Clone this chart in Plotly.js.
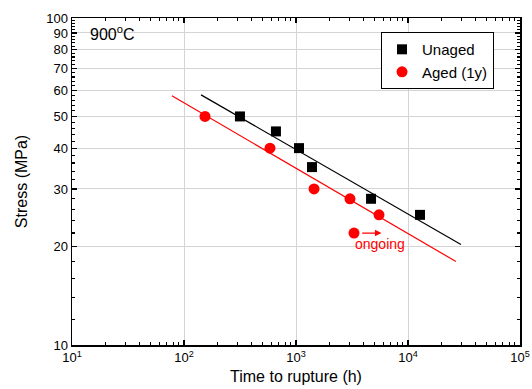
<!DOCTYPE html>
<html>
<head>
<meta charset="utf-8">
<script src="https://cdn.plot.ly/plotly-3.0.1.min.js"></script>
<style>html,body{margin:0;padding:0;background:#fff;}#chart{width:532px;height:389px;}</style>
</head>
<body>
<div id="chart"></div>
<script>
// Data
const unagedTime = [316, 662, 1064, 1389, 4677, 12800];
const unagedStress = [50, 45, 40, 35, 28, 25];
const agedTime = [154, 586, 1449, 3034, 5509];
const agedStress = [50, 40, 30, 28, 25];
const ongoingTime = [3296];
const ongoingStress = [22];
const unagedFitTime = [142, 29700];
const unagedFitStress = [58.2, 20.3];
const agedFitTime = [78, 26800];
const agedFitStress = [57.8, 18.0];
const xTickVals = [10, 100, 1000, 10000, 100000];
const xTickText = ['10<sup>1</sup>', '10<sup>2</sup>', '10<sup>3</sup>', '10<sup>4</sup>', '10<sup>5</sup>'];
const yTickVals = [10, 20, 30, 40, 50, 60, 70, 80, 90, 100];
const yTickText = ['10', '20', '30', '40', '50', '60', '70', '80', '90', '100'];

const xMinor = [];
for (let d = 10; d < 100000; d *= 10) for (let m = 2; m <= 9; m++) xMinor.push(m * d);
const yMinor = [];
for (let v = 12; v < 100; v += 2) if (v % 10 !== 0) yMinor.push(v);

const font = 'Liberation Sans, Arial, sans-serif';

const traces = [
  {x: unagedFitTime, y: unagedFitStress, mode: 'lines', line: {color: '#000', width: 1.2}, showlegend: false, hoverinfo: 'skip'},
  {x: agedFitTime, y: agedFitStress, mode: 'lines', line: {color: '#ff0000', width: 1.2}, showlegend: false, hoverinfo: 'skip'},
  {x: unagedTime, y: unagedStress, mode: 'markers', name: 'Unaged', marker: {symbol: 'square', size: 10, color: '#000'}},
  {x: agedTime, y: agedStress, mode: 'markers', name: 'Aged (1y)', marker: {symbol: 'circle', size: 11, color: '#ff0000'}},
  {x: ongoingTime, y: ongoingStress, mode: 'markers', showlegend: false, marker: {symbol: 'circle', size: 11, color: '#ff0000'}}
];

const axisCommon = {
  type: 'log', showline: true, linecolor: '#000', linewidth: 1.5, mirror: 'ticks',
  ticks: 'inside', ticklen: 5, tickwidth: 1.2, tickcolor: '#000',
  showgrid: true, gridcolor: '#d4d4d4', gridwidth: 1, zeroline: false,
  tickmode: 'array', tickfont: {family: font, size: 13, color: '#000'}
};

const layout = {
  width: 532, height: 389,
  margin: {l: 72, r: 12, t: 18, b: 44},
  paper_bgcolor: '#fff', plot_bgcolor: '#fff',
  font: {family: font, color: '#000'},
  showlegend: true,
  legend: {x: 0.942, y: 0.957, xanchor: 'right', yanchor: 'top', bordercolor: '#000', borderwidth: 1,
           bgcolor: '#fff', font: {family: font, size: 15, color: '#000'}, tracegroupgap: 0},
  xaxis: Object.assign({}, axisCommon, {
    range: [1, 5], tickvals: xTickVals, ticktext: xTickText,
    minor: {tickmode: 'array', tickvals: xMinor, ticks: 'inside', ticklen: 3, tickcolor: '#000', showgrid: false},
    title: {text: 'Time to rupture (h)', font: {family: font, size: 16, color: '#000'}, standoff: 6}
  }),
  yaxis: Object.assign({}, axisCommon, {
    range: [1, 2], tickvals: yTickVals, ticktext: yTickText,
    minor: {tickmode: 'array', tickvals: yMinor, ticks: 'inside', ticklen: 3, tickcolor: '#000', showgrid: false},
    title: {text: 'Stress (MPa)', font: {family: font, size: 16, color: '#000'}, standoff: 14}
  }),
  annotations: [
    {xref: 'paper', yref: 'paper', x: 0.035, y: 0.955, xanchor: 'left', yanchor: 'middle', showarrow: false,
     text: '900<sup>o</sup>C', font: {family: font, size: 16, color: '#000'}},
    {xref: 'x', yref: 'y', axref: 'x', ayref: 'y',
     x: Math.log10(ongoingTime[0]) + 0.245, y: Math.log10(ongoingStress[0]),
     ax: Math.log10(ongoingTime[0]) + 0.06, ay: Math.log10(ongoingStress[0]),
     text: '', showarrow: true, arrowhead: 2, arrowsize: 1, arrowwidth: 1.3, arrowcolor: '#ff0000'},
    {xref: 'x', yref: 'y', x: Math.log10(ongoingTime[0]), y: Math.log10(ongoingStress[0]),
     xanchor: 'left', yanchor: 'top', xshift: -1, yshift: -1, showarrow: false,
     text: 'ongoing', font: {family: font, size: 14, color: '#ff0000'}}
  ]
};

Plotly.newPlot('chart', traces, layout, {displayModeBar: false, staticPlot: true});
</script>
</body>
</html>
